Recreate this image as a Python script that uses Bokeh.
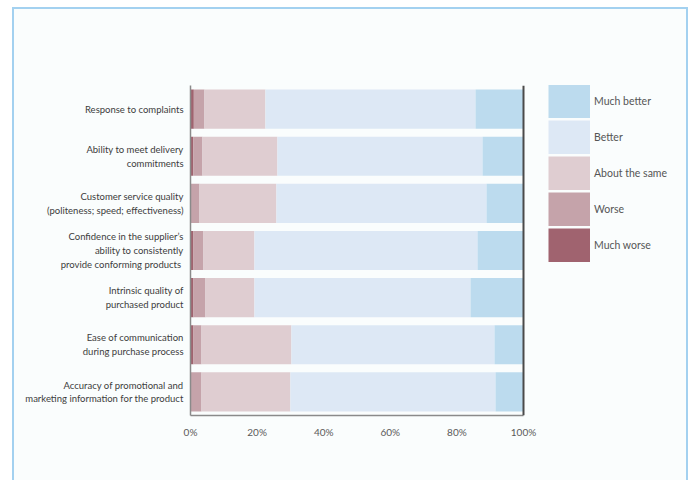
from bokeh.plotting import figure
from bokeh.models import (FactorRange, Range1d, FixedTicker, PrintfTickFormatter,
                          Legend, LegendItem, Span, ColumnDataSource)
from bokeh.embed import file_html
from bokeh.resources import INLINE

FONT = "Lato"

categories = [
    "Response to complaints",
    "Ability to meet delivery\ncommitments",
    "Customer service quality\n(politeness; speed; effectiveness)",
    "Confidence in the supplier\u2019s\nability to consistently\nprovide conforming  products",
    "Intrinsic quality of\npurchased product",
    "Ease of communication\nduring purchase process",
    "Accuracy of promotional and\nmarketing information for the product",
]
much_worse = [1.0, 0.8, 0.0, 0.9, 0.9, 0.9, 0.0]
worse = [3.2, 2.8, 2.7, 3.0, 3.6, 2.4, 3.3]
about_same = [18.3, 22.5, 23.1, 15.3, 14.7, 27.0, 26.7]
better = [63.1, 61.6, 63.1, 67.0, 64.9, 61.0, 61.6]
much_better = [14.4, 12.3, 11.1, 13.8, 15.9, 8.7, 8.4]

series_names = ["Much worse", "Worse", "About the same", "Better", "Much better"]
series_keys = ["much_worse", "worse", "about_same", "better", "much_better"]
colors = ["#a0636f", "#c5a3aa", "#dfcdd1", "#dde8f5", "#bcdbee"]
x_ticks = [0, 20, 40, 60, 80, 100]

source = ColumnDataSource(dict(
    cat=categories, much_worse=much_worse, worse=worse, about_same=about_same,
    better=better, much_better=much_better))

BLUE = "#a3d1f0"
INNER = "#fafdfd"
page_bg = (
    f"linear-gradient({BLUE},{BLUE}) 12px 7px / 2px 480px no-repeat, "
    f"linear-gradient({BLUE},{BLUE}) 686px 7px / 2px 480px no-repeat, "
    f"linear-gradient({BLUE},{BLUE}) 12px 7px / 676px 2px no-repeat, "
    f"linear-gradient({INNER},{INNER}) 14px 9px / 672px 480px no-repeat, white"
)

# layout: bar area spans 190..523 px; frame extends right to hold the legend
W, H = 692, 480
LEFT, BAR_RIGHT, RIGHT_BORDER = 190, 523, 8
frame_w = W - LEFT - RIGHT_BORDER
x_max = 100.0 * frame_w / (BAR_RIGHT - LEFT)

p = figure(width=W, height=H, output_backend="svg", toolbar_location=None,
           y_range=FactorRange(factors=list(reversed(categories)), range_padding=0),
           x_range=Range1d(0, x_max),
           min_border_left=LEFT, min_border_right=RIGHT_BORDER, min_border_top=85,
           min_border_bottom=65)
p.styles = {"background": page_bg}
p.background_fill_color = INNER
p.background_fill_alpha = 0
p.border_fill_alpha = 0
p.outline_line_color = None
p.grid.visible = False

renderers = p.hbar_stack(series_keys, y="cat", height=0.83, color=colors,
                         source=source, line_color=None)

# legend swatches: zero-length wide lines (only their legend glyph shows)
swatches = [p.line(x=[0, 0], y=[categories[0], categories[0]], line_color=c,
                   line_width=34, line_cap="butt")
            for c in colors]

# axes
p.xaxis.bounds = (0, 100)
p.xaxis.ticker = FixedTicker(ticks=x_ticks)
p.xaxis.formatter = PrintfTickFormatter(format="%d%%")
p.xaxis.major_tick_line_color = None
p.xaxis.minor_tick_line_color = None
p.xaxis.major_tick_out = 0
p.xaxis.major_label_standoff = 10
p.xaxis.axis_line_color = "#8a8a8a"
p.xaxis.axis_line_width = 1.5
p.xaxis.major_label_text_font = FONT
p.xaxis.major_label_text_font_size = "10px"
p.xaxis.major_label_text_color = "#5a5a5a"

p.yaxis.major_tick_line_color = None
p.yaxis.minor_tick_line_color = None
p.yaxis.major_tick_out = 0
p.yaxis.major_label_standoff = 7
p.yaxis.axis_line_color = "#8a8a8a"
p.yaxis.axis_line_width = 1.5
p.yaxis.major_label_text_font = FONT
p.yaxis.major_label_text_font_size = "9.5px"
p.yaxis.major_label_text_color = "#3c3c3c"
p.yaxis.major_label_text_line_height = 1.25

p.add_layout(Span(location=100, dimension="height", line_color="#4a4a4a",
                  line_width=2))

items = [LegendItem(label=n, renderers=[s]) for n, s in zip(series_names, swatches)]
legend = Legend(items=list(reversed(items)), location=(358, 153),
                glyph_width=42, glyph_height=34, spacing=2, padding=0, margin=0,
                label_standoff=4, border_line_alpha=0, background_fill_alpha=0,
                label_text_font=FONT, label_text_font_size="10.5px",
                label_text_color="#555555")
p.add_layout(legend, "center")

open("out.html", "w").write(file_html(p, INLINE))
